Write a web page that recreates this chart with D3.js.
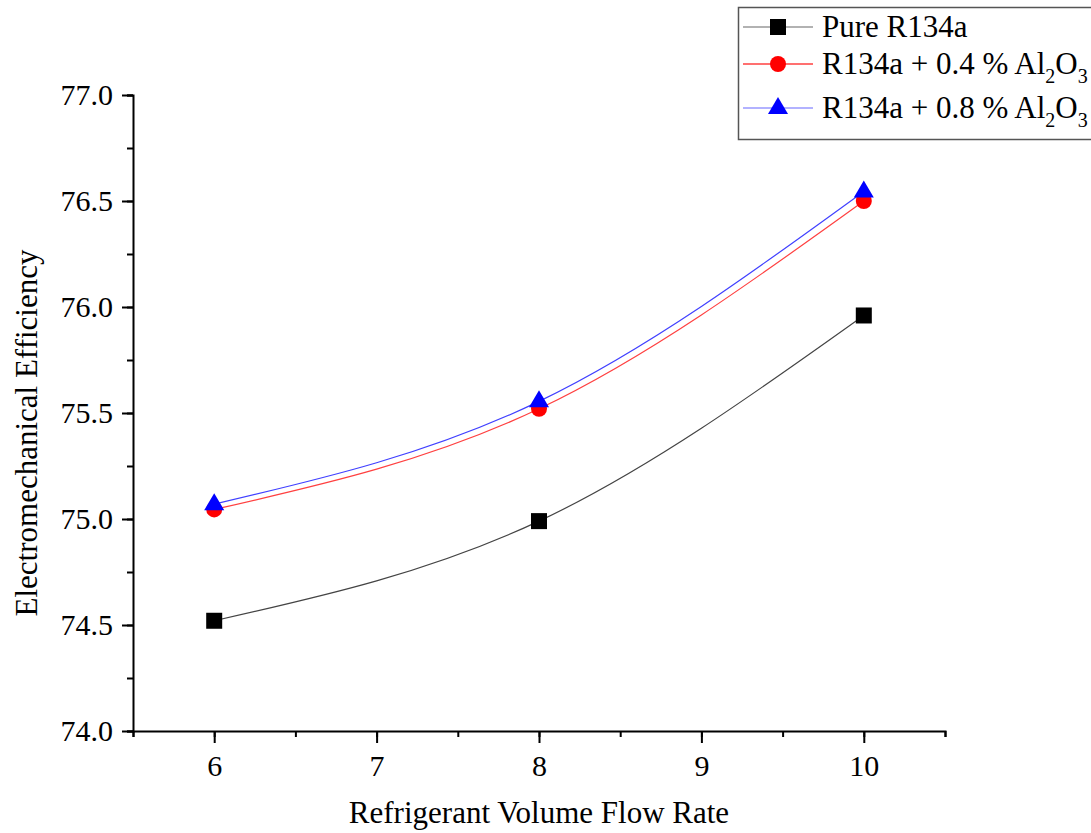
<!DOCTYPE html>
<html><head><meta charset="utf-8">
<script src="https://cdn.jsdelivr.net/npm/d3@7"></script>
<style>body{margin:0;background:#fff;} svg{display:block;}</style>
</head><body>
<script>
const flowRates = [6, 8, 10];
const pureR134a = [74.52, 74.99, 75.96];
const al04 = [75.045, 75.52, 76.50];
const al08 = [75.07, 75.555, 76.545];
const xTicks = [6, 7, 8, 9, 10];
const yTicks = [74.0, 74.5, 75.0, 75.5, 76.0, 76.5, 77.0];
const seriesNames = ["Pure R134a", "R134a + 0.4 % Al", "R134a + 0.8 % Al"];

const W = 1091, H = 833;
const svg = d3.select("body").append("svg").attr("width", W).attr("height", H);
const font = "'Liberation Serif', 'Times New Roman', serif";

const x = d3.scaleLinear().domain([5.5, 10.5]).range([133, 945]);
const y = d3.scaleLinear().domain([74, 77]).range([731, 95]);

// axes
const xAxis = svg.append("g").attr("transform", `translate(0,${y(74)})`);
xAxis.call(d3.axisBottom(x).tickValues(d3.range(5.5, 10.51, 0.5)).tickSize(6).tickFormat(""));
xAxis.call(g => g.append("g").call(d3.axisBottom(x).tickValues(xTicks).tickSize(12).tickFormat(d3.format("d"))));
xAxis.selectAll(".domain").attr("stroke", "#000").attr("stroke-width", 2);
xAxis.selectAll(".tick line").attr("stroke", "#000").attr("stroke-width", 2);
xAxis.selectAll(".tick text").attr("font-family", font).attr("font-size", 30).attr("fill", "#000").attr("y", 16).attr("dy", "0.95em");
xAxis.selectAll(".domain").filter((d,i)=>i>0).remove();

const yAxis = svg.append("g").attr("transform", `translate(${x(5.5)},0)`);
yAxis.call(d3.axisLeft(y).tickValues(d3.range(74, 77.01, 0.25)).tickSize(6).tickFormat(""));
yAxis.call(g => g.append("g").call(d3.axisLeft(y).tickValues(yTicks).tickSize(11).tickFormat(d3.format(".1f"))));
yAxis.selectAll(".domain").attr("stroke", "#000").attr("stroke-width", 2);
yAxis.selectAll(".tick line").attr("stroke", "#000").attr("stroke-width", 2);
yAxis.selectAll(".tick text").attr("font-family", font).attr("font-size", 30).attr("fill", "#000").attr("x", -20);
yAxis.selectAll(".domain").filter((d,i)=>i>0).remove();

// titles
svg.append("text").attr("x", 539).attr("y", 823).attr("text-anchor", "middle")
  .attr("font-family", font).attr("font-size", 31).text("Refrigerant Volume Flow Rate");
svg.append("text").attr("transform", "translate(37,433) rotate(-90)").attr("text-anchor", "middle")
  .attr("font-family", font).attr("font-size", 31).text("Electromechanical Efficiency");

const line = d3.line().x(d => x(d[0])).y(d => y(d[1])).curve(d3.curveNatural);
const series = [
  {vals: pureR134a, color: "#000", line: "#444", shape: "square"},
  {vals: al04, color: "#ff0000", line: "#ff4040", shape: "circle"},
  {vals: al08, color: "#0000ff", line: "#4040ff", shape: "triangle"}
];

function drawMarker(g, shape, cx, cy, color) {
  if (shape === "square") g.append("rect").attr("x", cx-8).attr("y", cy-8).attr("width", 16).attr("height", 16).attr("fill", color);
  else if (shape === "circle") g.append("circle").attr("cx", cx).attr("cy", cy).attr("r", 8).attr("fill", color);
  else g.append("path").attr("d", `M${cx},${cy-11}L${cx+10},${cy+6}L${cx-10},${cy+6}Z`).attr("fill", color);
}

series.forEach(s => {
  const pts = flowRates.map((f,i) => [f, s.vals[i]]);
  svg.append("path").attr("d", line(pts)).attr("fill", "none").attr("stroke", s.line).attr("stroke-width", 1.2);
});
series.forEach(s => {
  const g = svg.append("g");
  flowRates.forEach((f,i) => drawMarker(g, s.shape, x(f), y(s.vals[i]), s.color));
});

// legend
const lg = svg.append("g");
lg.append("rect").attr("x", 738.5).attr("y", 7.5).attr("width", 380).attr("height", 132)
  .attr("fill", "#fff").attr("stroke", "#555").attr("stroke-width", 1.5);
const rowY = [27, 64, 108];
const legendLine = ["#999", "#ff4040", "#9999ff"];
series.forEach((s, i) => {
  lg.append("line").attr("x1", 743).attr("x2", 813).attr("y1", rowY[i]).attr("y2", rowY[i]).attr("stroke", legendLine[i]).attr("stroke-width", 1.5);
  drawMarker(lg, s.shape, 778, rowY[i], s.color);
  const t = lg.append("text").attr("x", 822).attr("y", rowY[i] + 10).attr("font-family", font).attr("font-size", 31).attr("fill", "#000");
  t.append("tspan").text(seriesNames[i]);
  if (i > 0) {
    t.append("tspan").attr("font-size", 20).attr("dy", 9).text("2");
    t.append("tspan").attr("dy", -9).text("O");
    t.append("tspan").attr("font-size", 20).attr("dy", 9).text("3");
  }
});
</script>
</body></html>
